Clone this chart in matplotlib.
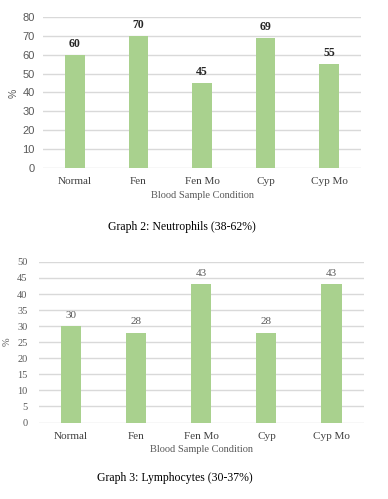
import matplotlib
matplotlib.use("Agg")
import matplotlib.pyplot as plt

categories = ["Normal", "Fen", "Fen Mo", "Cyp", "Cyp Mo"]
neutrophils = [60, 70, 45, 69, 55]
lymphocytes = [30, 28, 43, 28, 43]
caption_top = "Graph 2: Neutrophils (38-62%)"
caption_bottom = "Graph 3: Lymphocytes (30-37%)"
xlabel = "Blood Sample Condition"
ylabel = "%"

W, H = 388, 499
DPI = 100
fig = plt.figure(figsize=(W / DPI, H / DPI), dpi=DPI)
fig.patch.set_facecolor("white")

BAR = "#A9D18E"
GRID = "#D9D9D9"
SERIF = "Liberation Serif"
SANS = "Liberation Sans"


def make_ax(left, right, top, bottom):
    return fig.add_axes([left / W, 1 - bottom / H, (right - left) / W, (bottom - top) / H])


def style(ax, ymax, step, tickfont, tickcolor, pad, ysize):
    ax.set_xlim(-0.5, len(categories) - 0.5)
    ax.set_ylim(0, ymax)
    ax.set_yticks(range(0, ymax + 1, step))
    for s in ax.spines.values():
        s.set_visible(False)
    ax.yaxis.grid(True, color=GRID, linewidth=1.0)
    ax.set_axisbelow(True)
    ax.tick_params(axis="both", length=0)
    ax.tick_params(axis="y", pad=pad, labelsize=ysize, labelcolor=tickcolor)
    ax.tick_params(axis="x", pad=7, labelsize=8, labelcolor="#404040")
    for t in ax.get_yticklabels():
        t.set_fontfamily(tickfont)
    ax.set_xticks(range(len(categories)))
    ax.set_xticklabels(categories, fontfamily=SERIF)


# Top chart
ax1 = make_ax(43, 361, 17.3, 167.7)
ax1.bar(range(len(categories)), neutrophils, width=0.31, color=BAR, zorder=2)
style(ax1, 80, 10, SANS, "#595959", 6, 8)
for i, v in enumerate(neutrophils):
    ax1.annotate(str(v), (i, v), xytext=(0, 8), textcoords="offset points",
                 ha="center", va="center", fontsize=8.5, fontweight="bold",
                 fontfamily=SERIF, color="#262626")
fig.text(14 / W, 1 - 93 / H, ylabel, rotation=90, ha="center", va="center",
         fontsize=7.5, color="#595959", fontfamily=SANS)
fig.text(202 / W, 1 - 196 / H, xlabel, ha="center", va="center",
         fontsize=7.5, color="#595959", fontfamily=SERIF)
fig.text(181.5 / W, 1 - 227 / H, caption_top, ha="center", va="center",
         fontsize=8.5, color="black", fontfamily=SERIF)

# Bottom chart
ax2 = make_ax(38.7, 364, 261.9, 422.5)
ax2.bar(range(len(categories)), lymphocytes, width=0.31, color=BAR, zorder=2)
style(ax2, 50, 5, SERIF, "#595959", 8, 7.5)
for i, v in enumerate(lymphocytes):
    ax2.annotate(str(v), (i, v), xytext=(0, 8), textcoords="offset points",
                 ha="center", va="center", fontsize=8,
                 fontfamily=SERIF, color="#595959")
fig.text(7 / W, 1 - 342 / H, ylabel, rotation=90, ha="center", va="center",
         fontsize=7.5, color="#595959", fontfamily=SERIF)
fig.text(201 / W, 1 - 450 / H, xlabel, ha="center", va="center",
         fontsize=7.5, color="#595959", fontfamily=SERIF)
fig.text(174.5 / W, 1 - 478 / H, caption_bottom, ha="center", va="center",
         fontsize=8.5, color="black", fontfamily=SERIF)

fig.savefig("out.png", dpi=DPI)
